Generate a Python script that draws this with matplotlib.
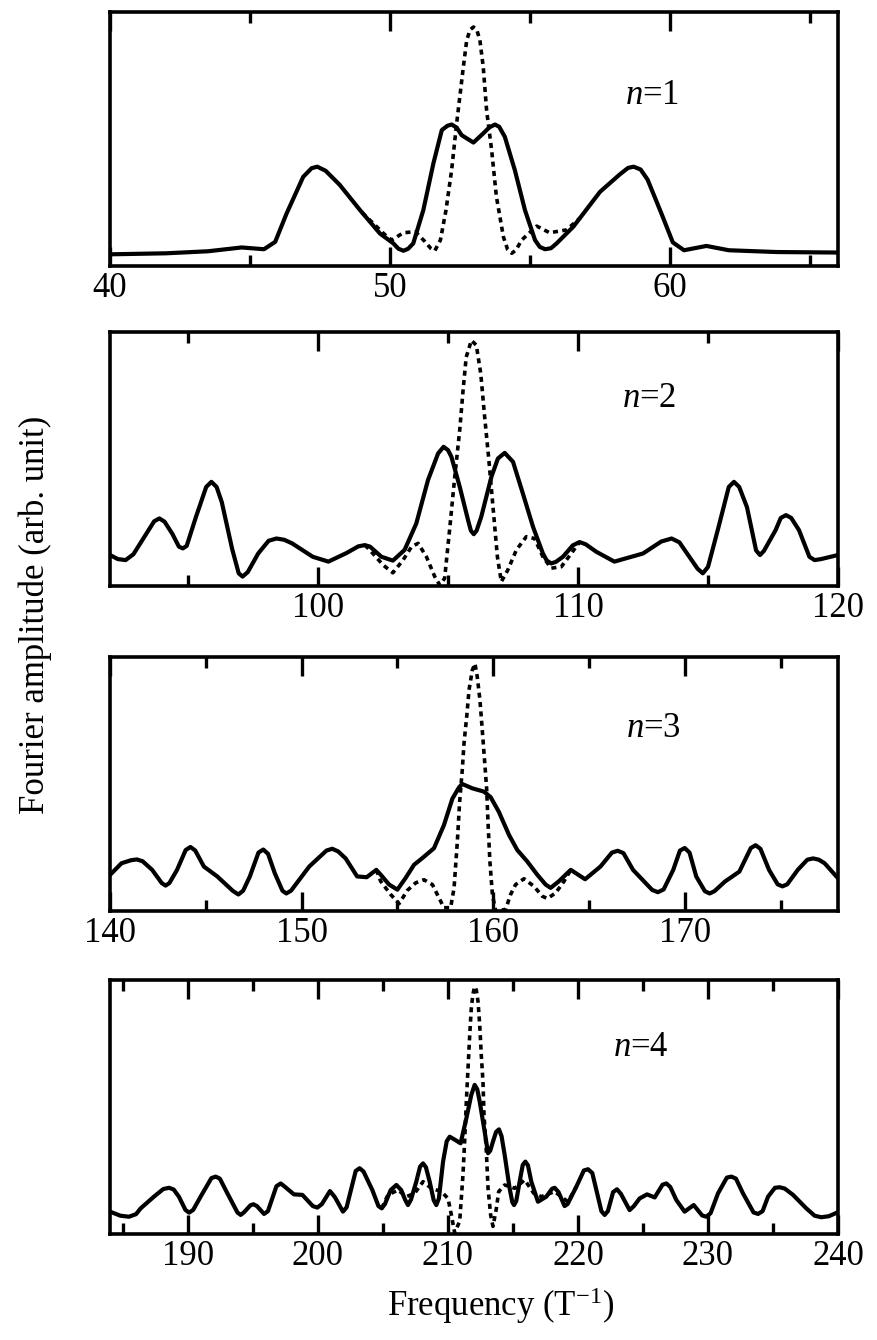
import matplotlib
matplotlib.use("Agg")
import matplotlib.pyplot as plt
from matplotlib.ticker import MultipleLocator

plt.rcParams['font.family'] = ['Liberation Serif', 'DejaVu Serif']
plt.rcParams['mathtext.fontset'] = 'custom'
plt.rcParams['mathtext.rm'] = 'Liberation Serif'
plt.rcParams['mathtext.it'] = 'Liberation Serif:italic'

# n=1  (solid = full spectrum, dotted = single-frequency reference)
freq1 = [40.0, 42.0, 43.5, 44.7, 45.5, 45.9, 46.3, 46.9, 47.2, 47.4, 47.7, 48.2, 48.93, 49.64,
         50.12, 50.3, 50.48, 50.65, 50.83, 51.19, 51.55, 51.85, 52.05, 52.2, 52.38, 52.56, 52.98,
         53.33, 53.55, 53.75, 53.9, 54.1, 54.46, 54.82, 55.18, 55.35, 55.54, 55.75, 55.95, 56.55,
         57.5, 58.2, 58.5, 58.7, 58.95, 59.2, 59.7, 60.1, 60.5, 61.3, 62.1, 63.8, 66.0]
amp1 = [4.6, 5.0, 5.8, 7.3, 6.6, 9.5, 20.5, 35.1, 38.5, 39.1, 37.5, 32.0, 22.0, 12.8,
        8.9, 6.8, 6.0, 6.8, 8.9, 22.0, 40.4, 53.5, 55.2, 55.7, 54.5, 51.5, 48.6,
        52.2, 54.6, 55.7, 54.8, 50.9, 37.7, 22.0, 10.2, 7.5, 6.6, 7.0, 8.9, 15.5,
        29.2, 36.0, 38.6, 39.1, 38.0, 34.0, 20.5, 9.3, 6.2, 7.9, 6.2, 5.5, 5.3]
freq1_ref = [49.0, 49.4, 49.8, 50.06, 50.48, 50.9, 51.25, 51.45, 51.6, 51.8, 52.0, 52.2, 52.38,
             52.62, 52.74, 52.86, 52.98, 53.1, 53.21, 53.33, 53.45, 53.63, 53.8, 54.05, 54.2,
             54.35, 54.5, 54.7, 55.24, 55.7, 56.3, 56.8]
amp1_ref = [21.0, 16.8, 12.5, 10.2, 13.1, 13.5, 9.6, 7.0, 6.0, 10.2, 22.0, 37.7, 56.1,
            78.4, 88.9, 93.0, 94.1, 93.0, 88.9, 78.4, 61.3, 45.6, 27.3, 11.5, 6.5,
            5.0, 6.3, 10.2, 15.7, 13.1, 14.2, 19.0]

# n=2
freq2 = [92.0, 92.3, 92.6, 92.9, 93.3, 93.7, 93.9, 94.1, 94.4, 94.65, 94.8, 94.95, 95.3, 95.7,
         95.9, 96.1, 96.3, 96.7, 96.95, 97.1, 97.3, 97.7, 98.1, 98.4, 98.7, 99.0, 99.8, 100.4,
         101.1, 101.55, 101.8, 102.0, 102.44, 102.88, 103.33, 103.78, 104.23, 104.62, 104.83,
         105.0, 105.13, 105.45, 105.77, 105.88, 105.99, 106.1, 106.28, 106.67, 106.92, 107.18,
         107.5, 107.88, 108.27, 108.65, 108.8, 108.97, 109.15, 109.42, 109.8, 110.06, 110.3,
         110.7, 111.4, 112.5, 113.2, 113.6, 113.9, 114.1, 114.6, 114.8, 115.0, 115.4, 115.8,
         116.0, 116.2, 116.5, 116.85, 117.0, 117.15, 117.6, 117.8, 118.0, 118.2, 118.5, 118.9,
         119.1, 119.35, 120.0]
amp2 = [12.2, 10.6, 10.2, 12.5, 19.0, 25.5, 26.6, 25.3, 20.5, 15.5, 14.8, 15.8, 27.0, 39.0,
        41.0, 39.0, 33.0, 14.5, 5.0, 3.7, 5.5, 12.8, 17.8, 18.7, 18.2, 16.8, 11.5, 9.6,
        13.0, 15.6, 16.1, 15.5, 11.5, 10.0, 14.2, 24.6, 41.7, 52.2, 54.8,
        53.5, 50.9, 39.1, 26.0, 21.8, 20.4, 21.8, 27.3, 43.0, 50.2, 52.4,
        48.9, 36.4, 23.3, 12.8, 10.0, 8.9, 9.5, 11.5, 16.0, 17.3, 16.4,
        13.5, 9.6, 12.8, 17.5, 18.7, 17.2, 14.2, 6.8, 5.0, 7.5, 23.0, 39.0,
        41.0, 39.0, 31.0, 14.0, 12.2, 13.8, 22.0, 26.8, 27.9, 26.8, 22.0, 11.5,
        10.2, 10.6, 12.2]
freq2_ref = [101.8, 101.99, 102.5, 102.88, 103.27, 103.6, 103.85, 104.17, 104.49, 104.68, 104.87,
             105.06, 105.26, 105.45, 105.58, 105.7, 105.9, 106.09, 106.26, 106.41, 106.56, 106.73,
             106.9, 107.05, 107.3, 107.63, 108.01, 108.33, 108.65, 108.97, 109.36, 109.74, 110.06]
amp2_ref = [16.1, 14.2, 8.3, 5.2, 10.2, 15.5, 16.8, 11.5, 3.7, 0.4, 3.0,
            22.0, 43.0, 61.3, 77.1, 90.1, 96.7, 94.8, 83.6, 66.5, 50.9, 31.2,
            11.5, 1.7, 6.3, 14.2, 19.4, 18.7, 11.5, 7.0, 7.6, 12.8, 17.3]

# n=3
freq3 = [140.0, 140.6, 141.1, 141.4, 141.7, 142.2, 142.7, 142.9, 143.1, 143.5, 143.95, 144.2,
         144.45, 144.9, 145.6, 146.4, 146.7, 146.95, 147.3, 147.75, 148.0, 148.25, 148.6, 149.0,
         149.2, 149.45, 150.4, 151.3, 151.6, 151.9, 152.3, 152.9, 153.4, 153.9, 154.13, 154.57,
         155.0, 155.43, 155.87, 156.3, 156.91, 157.43, 157.87, 158.22, 158.39, 158.91, 159.52,
         159.87, 160.3, 160.83, 161.26, 161.78, 162.3, 162.74, 163.0, 163.43, 164.05, 164.8,
         165.6, 166.2, 166.5, 166.8, 167.3, 168.3, 168.6, 168.9, 169.4, 169.75, 170.0, 170.25,
         170.6, 171.05, 171.3, 171.55, 172.1, 172.85, 173.45, 173.7, 173.95, 174.4, 174.85,
         175.1, 175.35, 175.9, 176.4, 176.7, 177.0, 177.3, 178.0]
amp3 = [14.2, 18.8, 20.0, 20.3, 19.6, 16.2, 11.0, 10.0, 11.0, 16.2, 24.0, 25.2,
        23.8, 17.5, 13.6, 8.0, 6.5, 8.0, 13.6, 23.0, 24.2, 22.5, 14.9, 8.0,
        6.9, 8.0, 17.5, 23.8, 24.5, 23.5, 20.7, 13.6, 13.3, 16.2, 14.3, 10.4,
        8.4, 13.0, 18.2, 20.8, 24.7, 33.8, 44.2, 48.7, 50.0, 48.3, 47.0,
        44.8, 39.0, 29.9, 24.0, 19.5, 14.3, 10.4, 9.1, 11.7, 16.2, 12.5,
        17.5, 23.0, 23.7, 22.8, 16.2, 8.3, 7.4, 8.5, 16.2, 23.8, 24.8, 23.0,
        13.6, 7.8, 6.9, 7.8, 11.6, 15.5, 24.8, 25.9, 24.5, 16.2, 10.5,
        9.7, 10.5, 16.2, 20.2, 20.7, 20.2, 18.8, 12.9]
freq3_ref = [153.9, 154.13, 154.65, 155.09, 155.52, 155.96, 156.39, 156.83, 157.17, 157.43,
             157.78, 157.96, 158.13, 158.25, 158.39, 158.48, 158.62, 158.74, 158.91, 159.05,
             159.17, 159.31, 159.43, 159.56, 159.66, 159.73, 159.83, 159.96, 160.13, 160.65,
             160.91, 161.17, 161.61, 162.13, 162.57, 162.83, 163.26, 163.7, 164.05]
amp3_ref = [16.2, 11.7, 6.5, 2.9, 8.1, 11.1, 12.3, 10.4, 5.2, 1.3,
            1.3, 9.1, 27.3, 42.9, 55.8, 66.2, 76.6, 87.0, 94.8, 97.4,
            92.2, 83.1, 71.4, 58.4, 48.1, 35.1, 19.5, 6.5, 0.0, 0.6,
            6.5, 10.4, 12.7, 9.7, 5.8, 4.9, 7.1, 11.7, 16.2]

# n=4
freq4 = [184.0, 184.8, 185.46, 186.0, 186.36, 187.38, 188.1, 188.54, 188.9, 189.3, 189.8, 190.08,
         190.4, 190.97, 191.8, 192.13, 192.45, 193.03, 193.8, 194.05, 194.3, 194.8, 195.03, 195.3,
         195.85, 196.15, 196.8, 197.13, 197.45, 198.15, 198.8, 199.6, 199.95, 200.3, 200.92,
         201.3, 201.92, 202.2, 202.9, 203.2, 203.5, 204.18, 204.65, 204.9, 205.15, 205.59, 206.03,
         206.4, 206.7, 206.92, 207.15, 207.56, 207.85, 208.08, 208.3, 208.59, 208.9, 209.1, 209.3,
         209.62, 209.9, 210.13, 210.56, 210.97, 211.41, 211.79, 212.05, 212.25, 212.44, 212.82,
         213.08, 213.25, 213.46, 213.7, 213.92, 214.12, 214.36, 214.74, 214.95, 215.08, 215.25,
         215.51, 215.75, 215.95, 216.15, 216.41, 216.92, 217.56, 218.0, 218.2, 218.5, 218.97,
         219.2, 219.87, 220.45, 220.77, 221.1, 221.41, 221.8, 222.05, 222.3, 222.7, 223.0, 223.3,
         223.97, 224.3, 224.74, 225.31, 225.9, 226.5, 226.8, 227.1, 227.56, 228.2, 228.9, 229.55,
         229.87, 230.2, 230.77, 231.45, 231.8, 232.15, 232.69, 233.5, 233.85, 234.2, 234.62,
         235.15, 235.51, 235.9, 236.54, 237.56, 238.2, 238.72, 239.3, 240.0]
amp4 = [8.8, 7.2, 6.8, 7.8, 10.1, 14.7, 17.7, 18.2, 17.5, 14.7, 9.5, 8.4,
        9.5, 14.7, 22.0, 22.6, 21.8, 16.0, 8.5, 7.5, 8.5, 11.3, 11.7, 11.0,
        7.9, 9.0, 18.8, 19.9, 18.6, 15.6, 15.4, 11.0, 10.4, 11.8, 16.9,
        14.5, 8.8, 10.5, 24.8, 25.9, 24.6, 17.3, 11.0, 10.1, 11.8, 17.3, 19.3,
        17.3, 13.5, 11.4, 13.5, 20.6, 26.5, 27.8, 26.3, 20.6, 13.3, 11.4, 14.0,
        28.5, 36.5, 38.3, 37.0, 35.7, 45.5, 54.7, 58.7, 57.0, 52.1, 40.3,
        31.8, 32.8, 36.4, 40.2, 41.2, 38.5, 31.1, 18.0, 12.5, 11.4, 13.0,
        20.6, 27.2, 28.5, 27.0, 20.6, 12.7, 14.7, 17.8, 18.2, 16.5, 11.0,
        11.8, 18.6, 25.0, 25.5, 24.0, 17.3, 9.0, 7.5, 9.0, 16.5, 17.6, 15.8,
        9.4, 11.0, 14.0, 15.6, 14.4, 19.4, 19.9, 18.5, 13.4, 8.8, 11.4, 7.3,
        6.8, 8.2, 16.0, 22.2, 22.6, 21.8, 16.0, 8.5, 7.9, 9.0, 14.7,
        18.2, 18.4, 17.9, 15.4, 10.1, 7.2, 6.6, 7.0, 8.6]
freq4_ref = [204.9, 205.38, 206.15, 206.8, 207.43, 208.08, 208.72, 209.49, 210.0, 210.26,
             210.51, 210.9, 211.15, 211.28, 211.41, 211.54, 211.67, 211.79, 211.92, 212.05,
             212.18, 212.31, 212.44, 212.56, 212.69, 212.77, 212.95, 213.08, 213.28, 213.46,
             213.72, 213.9, 214.36, 215.13, 215.9, 216.6, 217.18, 218.2, 219.23, 219.87]
amp4_ref = [10.1, 15.4, 17.3, 14.7, 16.0, 20.6, 18.0, 16.7, 14.0, 7.5,
            0.5, 5.0, 23.2, 36.4, 52.1, 65.2, 78.3, 88.8, 94.5, 97.4,
            96.0, 91.5, 82.3, 70.5, 60.0, 46.9, 32.4, 18.0, 7.5, 3.0,
            10.0, 16.7, 19.3, 18.0, 21.3, 16.0, 14.7, 16.7, 12.7, 18.6]

panels = [
    (freq1, amp1, freq1_ref, amp1_ref, (40, 66), '$n$=1', 12, (0.745, 0.636)),
    (freq2, amp2, freq2_ref, amp2_ref, (92, 120), '$n$=2', 332, (0.741, 0.705)),
    (freq3, amp3, freq3_ref, amp3_ref, (140, 178), '$n$=3', 657, (0.746, 0.686)),
    (freq4, amp4, freq4_ref, amp4_ref, (184, 240), '$n$=4', 980, (0.729, 0.700)),
]

W, H = 878, 1340
fig = plt.figure(figsize=(W / 100, H / 100), dpi=100)

for fx, ay, fr, ar, xlim, label, top, (tx, ty) in panels:
    ax = fig.add_axes([110 / W, 1 - (top + 254) / H, 728 / W, 254 / H])
    ax.plot(fx, ay, color='black', lw=3.0, solid_joinstyle='round')
    ax.plot(fr, ar, color='black', lw=2.6, linestyle=(0, (1.4, 1.2)))
    ax.set_xlim(*xlim)
    ax.set_ylim(0, 100)
    ax.set_yticks([])
    ax.xaxis.set_major_locator(MultipleLocator(10))
    ax.xaxis.set_minor_locator(MultipleLocator(5))
    ax.tick_params(axis='x', which='both', direction='in', top=True, bottom=True,
                   width=2.4, labelsize=25, pad=4)
    ax.tick_params(axis='x', which='major', length=14)
    ax.tick_params(axis='x', which='minor', length=8)
    for sp in ax.spines.values():
        sp.set_linewidth(2.6)
    ax.text(tx, ty, label, transform=ax.transAxes, fontsize=25,
            ha='center', va='baseline')

fig.text(0.04, 0.541, 'Fourier amplitude (arb. unit)', rotation=90,
         ha='center', va='center', fontsize=25)
fig.text(0.57, 0.026, 'Frequency (T$^{-1}$)', ha='center', va='center', fontsize=25)

fig.savefig('out.png', dpi=100)
